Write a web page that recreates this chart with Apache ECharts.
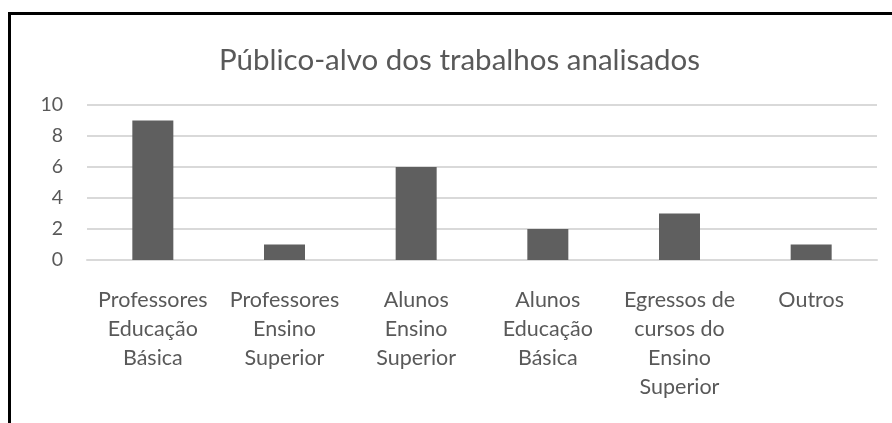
<!DOCTYPE html>
<html><head><meta charset="utf-8">
<script src="https://cdn.jsdelivr.net/npm/echarts@6/dist/echarts.min.js"></script>
<style>html,body{margin:0;padding:0;background:#fff}#c{width:892px;height:423px}</style>
</head><body><div id="c"></div>
<script>
const titleText = 'Público-alvo dos trabalhos analisados';
const categories = ['Professores\nEducação\nBásica','Professores\nEnsino\nSuperior','Alunos\nEnsino\nSuperior','Alunos\nEducação\nBásica','Egressos de\ncursos do\nEnsino\nSuperior','Outros'];
const values = [9,1,6,2,3,1];
const yMin = 0, yMax = 10, yStep = 2;

const chart = echarts.init(document.getElementById('c'), null, {renderer:'canvas'});
const font = 'Lato, "Open Sans", sans-serif';
chart.setOption({
  animation:false,
  title:{text:titleText,left:214,top:40,textStyle:{fontFamily:font,fontSize:29.5,fontWeight:'normal',color:'#595959'}},
  grid:{left:87,right:15,top:105,bottom:163,containLabel:false},
  xAxis:{type:'category',data:categories,axisLine:{show:true,lineStyle:{color:'#d9d9d9',width:2}},axisTick:{show:false},
    axisLabel:{interval:0,margin:26,fontFamily:font,fontSize:21.5,lineHeight:29,color:'#595959',align:'center'}},
  yAxis:{type:'value',min:yMin,max:yMax,interval:yStep,axisLine:{show:false},axisTick:{show:false},
    splitLine:{lineStyle:{color:'#d9d9d9',width:2}},
    axisLabel:{margin:24,fontFamily:font,fontSize:19.5,color:'#595959'}},
  series:[{type:'bar',data:values,barWidth:41,itemStyle:{color:'#5f5f5f'}}],
  graphic:[{type:'rect',shape:{x:9.5,y:13.5,width:900,height:430},style:{fill:'none',stroke:'#000',lineWidth:3},z:100}]
});
</script></body></html>
